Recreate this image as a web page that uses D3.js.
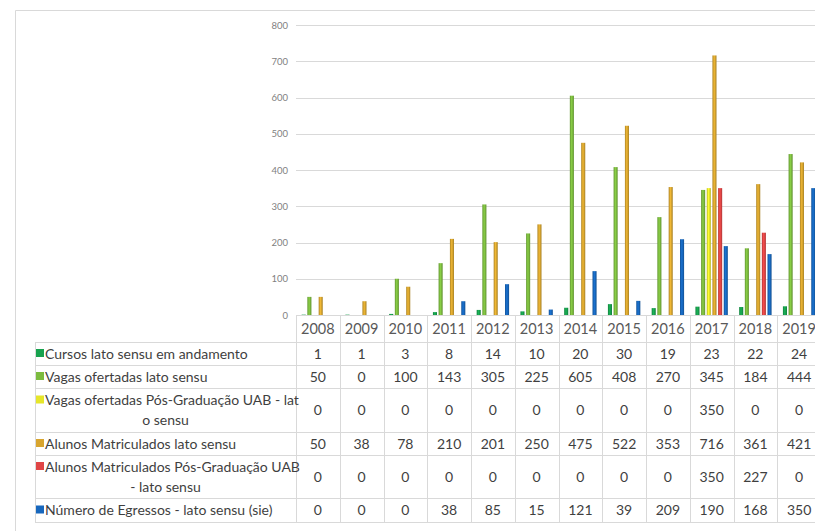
<!DOCTYPE html>
<html>
<head>
<meta charset="utf-8">
<script src="https://cdn.jsdelivr.net/npm/d3@7"></script>
<style>
  body { margin: 0; background: #fff; }
  svg { display: block; font-family: Lato, "Open Sans", sans-serif; }
</style>
</head>
<body>
<svg id="chart" width="815" height="531"></svg>
<script>
// data
const years = ["2008","2009","2010","2011","2012","2013","2014","2015","2016","2017","2018","2019"];
const seriesNames = [
  ["Cursos lato sensu em andamento"],
  ["Vagas ofertadas lato sensu"],
  ["Vagas ofertadas Pós-Graduação UAB - lat", "o sensu"],
  ["Alunos Matriculados lato sensu"],
  ["Alunos Matriculados Pós-Graduação UAB", "- lato sensu"],
  ["Número de Egressos - lato sensu (sie)"]
];
const cursos    = [1, 1, 3, 8, 14, 10, 20, 30, 19, 23, 22, 24];
const vagas     = [50, 0, 100, 143, 305, 225, 605, 408, 270, 345, 184, 444];
const vagasUab  = [0, 0, 0, 0, 0, 0, 0, 0, 0, 350, 0, 0];
const alunos    = [50, 38, 78, 210, 201, 250, 475, 522, 353, 716, 361, 421];
const alunosUab = [0, 0, 0, 0, 0, 0, 0, 0, 0, 350, 227, 0];
const egressos  = [0, 0, 0, 38, 85, 15, 121, 39, 209, 190, 168, 350];
const yTicks = [0, 100, 200, 300, 400, 500, 600, 700, 800];
const colors = ["#17a24e", "#7cbb3f", "#e6e62a", "#d8a52f", "#e04545", "#1767bd"];

const allSeries = [cursos, vagas, vagasUab, alunos, alunosUab, egressos];

const svg = d3.select("#chart");
const gridColor = "#d9d9d9";

// outer frame
svg.append("path")
  .attr("d", "M15.5,540 V10.5 H830")
  .attr("fill", "none").attr("stroke", gridColor);

const x = d3.scaleBand().domain(years).range([296, 821]);
const y = d3.scaleLinear().domain([0, 800]).range([315, 25]);
const inner = d3.scaleBand().domain(d3.range(6)).range([0, x.bandwidth()])
  .paddingInner(0.28).paddingOuter(1);

// gridlines + y labels
svg.append("g").selectAll("line").data(yTicks).join("line")
  .attr("x1", 296).attr("x2", 830)
  .attr("y1", d => Math.round(y(d)) + 0.5).attr("y2", d => Math.round(y(d)) + 0.5)
  .attr("stroke", gridColor).attr("stroke-width", 1.2);

svg.append("g").selectAll("text").data(yTicks).join("text")
  .attr("x", 288).attr("y", d => y(d) + 3.5)
  .attr("text-anchor", "end")
  .attr("font-size", 9.5).attr("fill", "#7f7f7f")
  .text(d => d);

// gradients for the cylinder look
const defs = svg.append("defs");
colors.forEach((c, i) => {
  const g = defs.append("linearGradient").attr("id", "g" + i)
    .attr("x1", "0%").attr("x2", "100%").attr("y1", "0%").attr("y2", "0%");
  g.append("stop").attr("offset", "0%").attr("stop-color", d3.color(c).darker(0.6));
  g.append("stop").attr("offset", "45%").attr("stop-color", d3.color(c).brighter(0.3));
  g.append("stop").attr("offset", "100%").attr("stop-color", d3.color(c).darker(0.7));
});

// bars
const barData = [];
allSeries.forEach((vals, s) => vals.forEach((v, i) => barData.push({ s, year: years[i], v })));
svg.append("g").selectAll("rect").data(barData.filter(d => d.v > 0)).join("rect")
  .attr("x", d => x(d.year) + inner(d.s))
  .attr("width", inner.bandwidth())
  .attr("y", d => y(d.v))
  .attr("height", d => y(0) - y(d.v))
  .attr("fill", d => "url(#g" + d.s + ")");

// data table
const rowTops = [342, 365, 388, 432, 455, 498];
const rowBottoms = [365, 388, 432, 455, 498, 522];
const tableLeft = 35, labelRight = 296;
const textColor = "#3f3f3f";

const table = svg.append("g");

// header year cells
table.selectAll(".yr").data(years).join("text")
  .attr("x", d => x(d) + x.bandwidth() / 2).attr("y", 334)
  .attr("text-anchor", "middle").attr("font-size", 14.5).attr("fill", "#595959")
  .text(d => d);

// vertical borders in header and body
const vlines = years.map(d => x(d)).concat([x.range()[1]]);
table.selectAll(".vl").data(vlines).join("line")
  .attr("x1", d => Math.round(d) + 0.5).attr("x2", d => Math.round(d) + 0.5)
  .attr("y1", 315).attr("y2", 522)
  .attr("stroke", gridColor);
table.append("line")
  .attr("x1", tableLeft + 0.5).attr("x2", tableLeft + 0.5)
  .attr("y1", 342).attr("y2", 522).attr("stroke", gridColor);

// horizontal borders
const hl = [342].concat(rowBottoms);
table.selectAll(".hl").data(hl).join("line")
  .attr("x1", tableLeft).attr("x2", 830)
  .attr("y1", d => d + 0.5).attr("y2", d => d + 0.5)
  .attr("stroke", gridColor);

// row labels with legend keys
seriesNames.forEach((lines, s) => {
  const top = rowTops[s], bot = rowBottoms[s];
  const mid = (top + bot) / 2;
  const lh = 20;
  const firstY = mid - (lines.length - 1) * lh / 2;
  table.append("rect")
    .attr("x", 36).attr("y", firstY - 4.5).attr("width", 8).attr("height", 8)
    .attr("fill", colors[s]);
  lines.forEach((t, k) => {
    table.append("text")
      .attr("x", k === 0 ? 45 : (tableLeft + labelRight) / 2)
      .attr("y", firstY + k * lh + 5)
      .attr("text-anchor", k === 0 ? "start" : "middle")
      .attr("font-size", 14).attr("fill", textColor)
      .text(t);
  });
  table.selectAll(null).data(allSeries[s]).join("text")
    .attr("x", (d, i) => x(years[i]) + x.bandwidth() / 2)
    .attr("y", mid + 5)
    .attr("text-anchor", "middle").attr("font-size", 14).attr("fill", textColor)
    .text(d => d);
});
</script>
</body>
</html>
